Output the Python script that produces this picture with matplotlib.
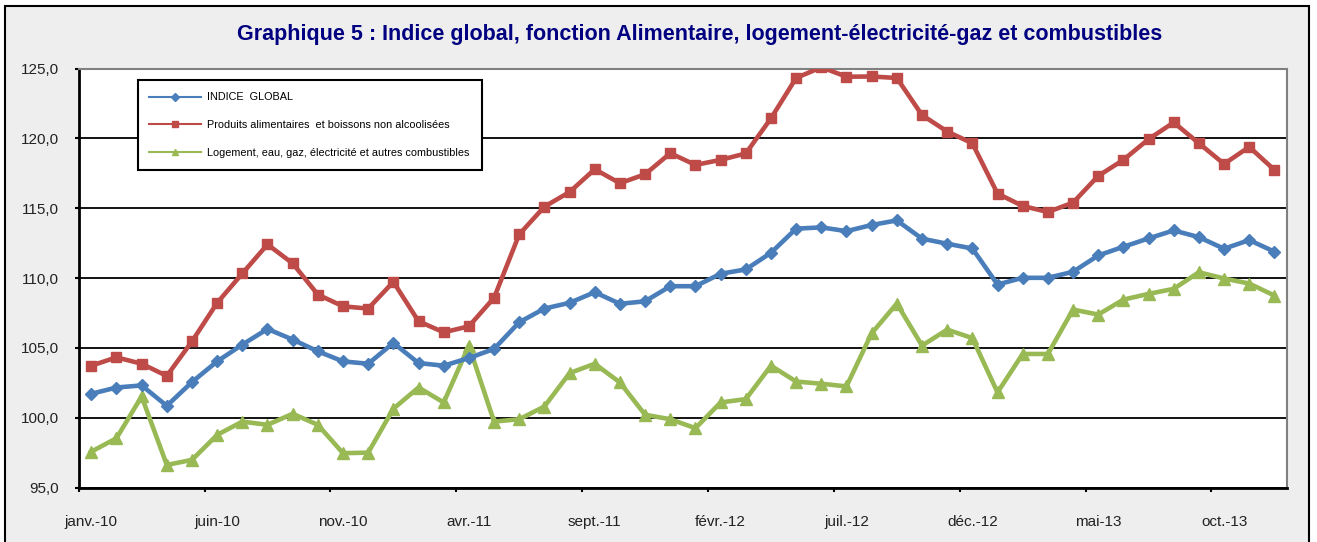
import matplotlib
matplotlib.use("Agg")
import matplotlib.pyplot as plt
from matplotlib.patches import Rectangle
from matplotlib.lines import Line2D

plt.rcParams['font.family'] = ['Liberation Sans', 'DejaVu Sans']

tick_labels = ["janv.-10", "juin-10", "nov.-10", "avr.-11", "sept.-11", "févr.-12",
               "juil.-12", "déc.-12", "mai-13", "oct.-13"]

indice_global = [101.72, 102.17, 102.32, 100.86, 102.56, 104.04, 105.24, 106.36,
                 105.60, 104.76, 104.04, 103.87, 105.36, 103.92, 103.73, 104.28,
                 104.93, 106.84, 107.82, 108.23, 108.99, 108.16, 108.34, 109.42,
                 109.42, 110.31, 110.62, 111.81, 113.54, 113.63, 113.36, 113.80,
                 114.13, 112.82, 112.46, 112.12, 109.54, 110.02, 110.02, 110.45,
                 111.62, 112.24, 112.84, 113.41, 112.93, 112.10, 112.72, 111.89]

alimentaires = [103.73, 104.33, 103.87, 103.00, 105.47, 108.23, 110.33, 112.41,
                111.05, 108.82, 107.98, 107.82, 109.73, 106.91, 106.12, 106.55,
                108.59, 113.13, 115.11, 116.16, 117.79, 116.79, 117.43, 118.94,
                118.10, 118.46, 118.92, 121.43, 124.32, 125.09, 124.41, 124.43,
                124.32, 121.67, 120.49, 119.65, 116.05, 115.16, 114.73, 115.40,
                117.31, 118.46, 119.94, 121.14, 119.65, 118.17, 119.39, 117.74]

logement = [97.58, 98.54, 101.53, 96.63, 96.99, 98.78, 99.73, 99.50,
            100.29, 99.50, 97.47, 97.51, 100.65, 102.17, 101.10, 105.17,
            99.73, 99.90, 100.81, 103.20, 103.87, 102.53, 100.22, 99.90,
            99.26, 101.10, 101.34, 103.73, 102.60, 102.44, 102.25, 106.05,
            108.18, 105.17, 106.31, 105.71, 101.82, 104.57, 104.57, 107.75,
            107.39, 108.46, 108.87, 109.23, 110.42, 109.97, 109.61, 108.75]

series_labels = ["INDICE  GLOBAL",
                 "Produits alimentaires  et boissons non alcoolisées",
                 "Logement, eau, gaz, électricité et autres combustibles"]
colors = ["#4a7ebb", "#be4b48", "#98b954"]

W, H = 1317, 542
fig = plt.figure(figsize=(W / 100, H / 100), dpi=100)
fig.patch.set_facecolor("white")

# dotted background with outer border
bg = Rectangle((5 / W, -0.05), (1309 - 5) / W, 1 - 6 / H + 0.05, transform=fig.transFigure,
               facecolor="#eeeeee", edgecolor="black", linewidth=1.5, zorder=-10)
fig.add_artist(bg)

ax = fig.add_axes([78.7 / W, 1 - 487.7 / H, (1287 - 78.7) / W, (487.7 - 68.5) / H])
ax.set_zorder(1)
ax.set_facecolor("white")

x = list(range(len(indice_global)))
ax.plot(x, indice_global, color=colors[0], lw=3.3, marker="D", ms=6.5, zorder=4,
        solid_joinstyle="round")
ax.plot(x, alimentaires, color=colors[1], lw=3.3, marker="s", ms=7, zorder=3,
        solid_joinstyle="round")
ax.plot(x, logement, color=colors[2], lw=3.3, marker="^", ms=8, zorder=2,
        solid_joinstyle="round")

ax.set_xlim(-0.5, len(x) - 0.5)
ax.set_ylim(95, 125)
yt = [95, 100, 105, 110, 115, 120, 125]
ax.set_yticks(yt)
ax.set_yticklabels([f"{v:.1f}".replace(".", ",") for v in yt], fontsize=11, color="#222222")
ax.yaxis.grid(True, color="black", lw=1.3, zorder=1)
ax.set_axisbelow(True)

# x ticks at boundaries every 5 months, labels centered on categories
ax.set_xticks([i - 0.5 for i in range(0, 48, 5)])
ax.set_xticklabels([])
ax.set_xticks(list(range(0, 48, 5)), minor=True)
ax.set_xticklabels(tick_labels, minor=True, fontsize=11, color="#222222")
ax.tick_params(axis="x", which="minor", length=0, pad=20)
ax.tick_params(axis="x", which="major", length=3, width=1.5, direction="out", color="black")
ax.tick_params(axis="y", length=3, width=1.5, direction="out", pad=11)

for s in ["left", "bottom"]:
    ax.spines[s].set_linewidth(2)
    ax.spines[s].set_color("black")
for s in ["top", "right"]:
    ax.spines[s].set_linewidth(1.5)
    ax.spines[s].set_color("#808080")

handles = [Line2D([], [], color=colors[0], lw=1.5, marker="D", ms=4),
           Line2D([], [], color=colors[1], lw=1.5, marker="s", ms=4.5),
           Line2D([], [], color=colors[2], lw=1.5, marker="^", ms=5)]
leg = ax.legend(handles, series_labels, loc="upper left",
                bbox_to_anchor=(137.5 / W, 1 - 80.5 / H), bbox_transform=fig.transFigure,
                fontsize=7.8, handlelength=4.8, handletextpad=0.55, labelspacing=1.65,
                borderpad=1.1, borderaxespad=0, frameon=True, fancybox=False)
leg.get_frame().set_edgecolor("black")
leg.get_frame().set_linewidth(1.5)
leg.get_frame().set_facecolor("white")
leg.get_frame().set_alpha(1)

fig.text(700 / W, 1 - 34.5 / H,
         "Graphique 5 : Indice global, fonction Alimentaire, logement-électricité-gaz et combustibles",
         ha="center", va="center", fontsize=15.5, fontweight="bold", color="#000080")

fig.savefig("out.png", dpi=100, facecolor=fig.get_facecolor())
